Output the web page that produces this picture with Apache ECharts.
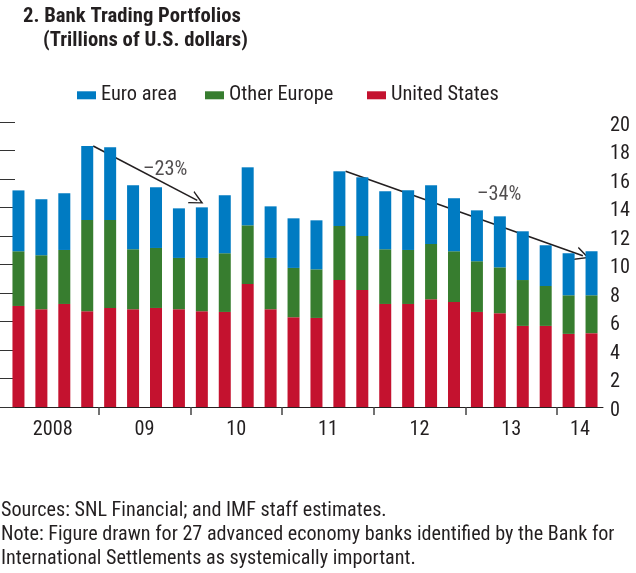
<!DOCTYPE html>
<html><head><meta charset="utf-8">
<script src="https://cdn.jsdelivr.net/npm/echarts@6/dist/echarts.min.js"></script>
<style>html,body{margin:0;padding:0;background:#fff}#c{width:636px;height:573px}</style>
</head><body><div id="c"></div>
<script>
const quarters = ['2008Q1','2008Q2','2008Q3','2008Q4','2009Q1','2009Q2','2009Q3','2009Q4',
  '2010Q1','2010Q2','2010Q3','2010Q4','2011Q1','2011Q2','2011Q3','2011Q4',
  '2012Q1','2012Q2','2012Q3','2012Q4','2013Q1','2013Q2','2013Q3','2013Q4','2014Q1','2014Q2'];
const unitedStates = [7.09,6.86,7.23,6.72,6.95,6.86,6.95,6.86,6.72,6.67,8.63,6.86,6.30,6.25,8.91,8.21,7.23,7.23,7.56,7.37,6.67,6.58,5.69,5.69,5.13,5.18];
const otherEurope  = [3.84,3.79,3.79,6.41,6.18,4.21,4.21,3.60,3.74,4.12,4.12,3.60,3.46,3.41,3.79,3.79,3.84,3.79,3.88,3.56,3.56,3.22,3.22,2.80,2.71,2.66];
const euroArea     = [4.27,3.93,3.98,5.19,5.10,4.49,4.26,3.48,3.55,4.07,4.07,3.62,3.48,3.44,3.84,4.12,4.07,4.19,4.12,3.72,3.57,3.58,3.42,2.86,2.95,3.09];
const yearLabels = ['2008','09','10','11','12','13','14'];
const yearLabelPos = [2,6,10,14,18,22,25];
const yearTickPos = [4,8,12,16,20,24];
const arrows = [[[3.76,18.32],[8.3,14.5]], [[14.77,16.54],[25.12,10.62]]];
const arrowLabels = [[6.9,16.82,'\u201323%'],[21.47,15.07,'\u201334%']];

// pick the narrowest-looking installed sans font, then size text so widths match
const ctx = document.createElement('canvas').getContext('2d');
function w(font, s){ ctx.font = font; return ctx.measureText(s).width; }
function has(name){
  const s='Euro area 0123456789 Figure';
  return w("40px monospace", s) !== w("40px '"+name+"', monospace", s) ||
         w("40px serif", s) !== w("40px '"+name+"', serif", s);
}
const cands = ['Liberation Sans Narrow','Noto Sans Condensed','Roboto Condensed','Noto Sans SemiCondensed','Liberation Sans'];
let fam = 'Liberation Sans';
for (const c of cands) { if (has(c)) { fam = c; break; } }
const FONT = "'"+fam+"', 'Liberation Sans', sans-serif";
function fit(str, target, weight){ const m = w((weight||'normal')+" 100px "+FONT, str); return Math.min(21, 100*target/m); }
const fsLegend = fit('Euro area', 76);
const fsAxis = fit('2008', 40);
const fsTitle = fit('2. Bank Trading Portfolios', 218, 'bold');
const fsNote = fit('Note: Figure drawn for 27 advanced economy banks identified by the Bank for', 614);
const TXT = '#231f20';

const chart = echarts.init(document.getElementById('c'), null, {renderer:'canvas'});
const legendBase = {orient:'horizontal', padding:0, itemWidth:19, itemHeight:8, icon:'rect', top:95.5-fsLegend/2,
  textStyle:{fontSize:fsLegend, fontFamily:FONT, color:TXT, padding:[3,0,0,0]}, selectedMode:false};
chart.setOption({
  animation:false,
  textStyle:{fontFamily:FONT},
  title:[
    {text:'2. Bank Trading Portfolios', left:23, top:17-fsTitle/2, padding:0, textStyle:{fontSize:fsTitle, fontWeight:'bold', fontFamily:FONT, color:TXT}},
    {text:'(Trillions of U.S. dollars)', left:43, top:41-fsTitle/2, padding:0, textStyle:{fontSize:fsTitle, fontWeight:'bold', fontFamily:FONT, color:TXT}},
    {text:'Sources: SNL Financial; and IMF staff estimates.\nNote: Figure drawn for 27 advanced economy banks identified by the Bank for\nInternational Settlements as systemically important.',
     left:1, top:499, padding:0, textStyle:{fontSize:fsNote, fontWeight:'normal', fontFamily:FONT, color:TXT, lineHeight:24}}
  ],
  legend:[
    Object.assign({}, legendBase, {left:77, data:['Euro area']}),
    Object.assign({}, legendBase, {left:205, data:['Other Europe']}),
    Object.assign({}, legendBase, {left:367, data:['United States']})
  ],
  grid:{left:7, right:33, top:122, bottom:166, containLabel:false},
  xAxis:[
    {type:'category', data:quarters, boundaryGap:true,
     axisLine:{show:true, lineStyle:{color:'#231f20', width:1}},
     axisTick:{show:false}, axisLabel:{show:false}, splitLine:{show:false}},
    {type:'value', min:0, max:26, position:'bottom',
     axisLine:{show:false}, splitLine:{show:false},
     axisTick:{show:true, customValues:yearTickPos, length:8, lineStyle:{color:'#444', width:1.5}},
     axisLabel:{show:true, customValues:yearLabelPos, margin:430-407-fsAxis/2, fontSize:fsAxis, fontFamily:FONT, color:TXT,
       formatter:(v)=>{const i=yearLabelPos.indexOf(Math.round(v)); return i>=0?yearLabels[i]:'';}}}
  ],
  yAxis:[
    {type:'value', position:'right', min:0, max:20, interval:2,
     axisLine:{show:false}, splitLine:{show:false},
     axisTick:{show:true, inside:true, length:7, lineStyle:{color:'#333'}},
     axisLabel:{show:true, margin:7, fontSize:fsAxis, fontFamily:FONT, color:TXT, verticalAlign:'top', lineHeight:7}},
    {type:'value', position:'left', min:0, max:20, interval:2,
     axisLine:{show:false}, splitLine:{show:false},
     axisTick:{show:true, inside:true, length:8, lineStyle:{color:'#333'}},
     axisLabel:{show:false}}
  ],
  series:[
    {name:'United States', type:'bar', stack:'t', xAxisIndex:0, yAxisIndex:0, barWidth:12, data:unitedStates, itemStyle:{color:'#c4122f'}},
    {name:'Other Europe', type:'bar', stack:'t', xAxisIndex:0, yAxisIndex:0, barWidth:12, data:otherEurope, itemStyle:{color:'#377d2f'}},
    {name:'Euro area', type:'bar', stack:'t', xAxisIndex:0, yAxisIndex:0, barWidth:12, data:euroArea, itemStyle:{color:'#007bc2'}},
    {type:'lines', coordinateSystem:'cartesian2d', xAxisIndex:1, yAxisIndex:0, silent:true,
     symbol:['none','path://M0,14 L8,0 L16,14 L14.2,14 L8,3.2 L1.8,14 Z'], symbolSize:[16,14],
     lineStyle:{color:'#231f20', width:1.6, opacity:1},
     data:arrows.map(a=>({coords:a}))},
    {type:'scatter', xAxisIndex:1, yAxisIndex:0, symbolSize:1, itemStyle:{color:'rgba(0,0,0,0)'}, silent:true,
     data:arrowLabels,
     label:{show:true, position:'inside', offset:[0,3], formatter:(p)=>p.value[2], fontSize:fsAxis, fontFamily:FONT, color:TXT}}
  ]
});
</script></body></html>
